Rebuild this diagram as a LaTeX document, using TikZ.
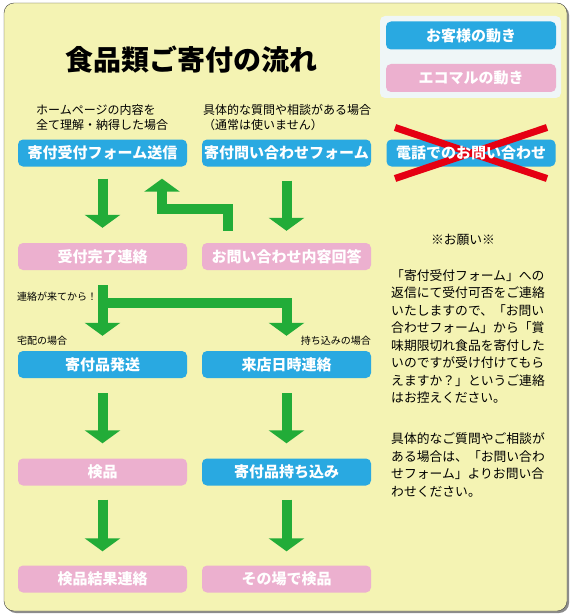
\documentclass[tikz,border=0pt]{standalone}
\usepackage{fontspec}
\setmainfont{Noto Sans CJK JP}
\usetikzlibrary{arrows.meta}
\definecolor{custblue}{HTML}{29A9E1}
\definecolor{ecopink}{HTML}{ECB0CF}
\definecolor{flowgreen}{HTML}{22AC38}
\definecolor{paper}{HTML}{F4F3B3}
\definecolor{crossred}{HTML}{E50012}
\definecolor{keybg}{HTML}{EFF6F7}
\tikzset{
  stage/.style={rounded corners=5pt, minimum width=169pt, minimum height=27pt,
    inner sep=0pt, text=white, font=\fontsize{15}{15}\selectfont\bfseries},
  cust/.style={stage, fill=custblue},
  eco/.style={stage, fill=ecopink},
  flow/.style={draw=flowgreen, line width=10pt, -{Triangle[width=35pt,length=13pt]}},
  note/.style={inner sep=0pt, font=\fontsize{12}{15}\selectfont, align=left},
  tag/.style={inner sep=0pt, font=\fontsize{10}{12}\selectfont}
}
\begin{document}
\begin{tikzpicture}[x=1pt,y=-1pt]
	\useasboundingbox (0,0) rectangle (573,615);
	% frame and title
	\fill [black!45, rounded corners=10pt] (6,5) rectangle (569,613);
	\draw [fill=paper, draw=black!75, rounded corners=10pt] (4,3) rectangle (567,611);
	\node [font=\fontsize{28}{28}\selectfont\bfseries] (title) at (191,60) {食品類ご寄付の流れ};
	% key
	\fill [keybg, rounded corners=5pt] (380,16) rectangle (561,98);
	\node [cust, minimum width=170pt, minimum height=28pt] (keycust) at (471,35.5) {お客様の動き};
	\node [eco, minimum width=170pt, minimum height=28pt] (keyeco) at (471,78) {エコマルの動き};
	% notes above the forms
	\node [note, anchor=north west] (ifall) at (36,104) {ホームページの内容を\\全て理解・納得した場合};
	\node [note, anchor=north west] (ifask) at (203,104) {具体的な質問や相談がある場合\\（通常は使いません）};
	% stages
	\node [cust] (send) at (102.5,153) {寄付受付フォーム送信};
	\node [cust] (ask) at (286.5,153) {寄付問い合わせフォーム};
	\node [cust] (phone) at (471,153) {};
	\node [eco] (done) at (102.5,256.5) {受付完了連絡};
	\node [eco] (reply) at (286.5,256.5) {お問い合わせ内容回答};
	\node [cust] (ship) at (102.5,364.5) {寄付品発送};
	\node [cust] (visit) at (286.5,364.5) {来店日時連絡};
	\node [eco] (check) at (102.5,472) {検品};
	\node [cust] (bring) at (286.5,472) {寄付品持ち込み};
	\node [eco] (result) at (102.5,579) {検品結果連絡};
	\node [eco] (onsite) at (286.5,579) {その場で検品};
	% no phone calls
	\draw [crossred, line width=7pt] ([shift={(-76,-25.5)}]phone.center) -- ([shift={(76,25.5)}]phone.center);
	\draw [crossred, line width=7pt] ([shift={(-76,25.5)}]phone.center) -- ([shift={(76,-25.5)}]phone.center);
	\node [stage] (phonelabel) at (phone.center) {電話でのお問い合わせ};
	% small labels
	\node [tag, anchor=west] (aftermail) at (17,297) {連絡が来てから！};
	\node [tag, anchor=west] (bypost) at (17,341) {宅配の場合};
	\node [tag, anchor=east] (byhand) at (371,341) {持ち込みの場合};
	% arrows
	\draw [flow, shorten <=12pt, shorten >=15pt] (send) -- (done);
	\draw [flow, shorten <=14pt, shorten >=12pt] (ask) -- (reply);
	\draw [flow, shorten <=12pt, shorten >=12pt] ([xshift=-58.5pt]reply.north) -- ++(0,-34) -| ([xshift=59.5pt]send.south);
	\draw [flow, shorten <=15pt, shorten >=15pt] (done) -- (ship);
	\coordinate (split) at ([yshift=-33pt]done.south);
	\draw [flow, shorten >=15pt] (split) -| (visit.north);
	\draw [flow, shorten <=15pt, shorten >=15pt] (ship) -- (check);
	\draw [flow, shorten <=15pt, shorten >=15pt] (visit) -- (bring);
	\draw [flow, shorten <=14pt, shorten >=14pt] (check) -- (result);
	\draw [flow, shorten <=14pt, shorten >=14pt] (bring) -- (onsite);
	% request
	\node [font=\fontsize{12.8}{12.8}\selectfont] (plea) at (463,240) {※お願い※};
	\node [inner sep=0pt, anchor=north west, align=left, font=\fontsize{12.8}{17.5}\selectfont] (pleatext) at (391,269) {「寄付受付フォーム」への\\返信にて受付可否をご連絡\\いたしますので、「お問い\\合わせフォーム」から「賞\\味期限切れ食品を寄付した\\いのですが受け付けてもら\\えますか？」というご連絡\\はお控えください。\\[23.5pt]具体的なご質問やご相談が\\ある場合は、「お問い合わ\\せフォーム」よりお問い合\\わせください。};
\end{tikzpicture}
\end{document}
